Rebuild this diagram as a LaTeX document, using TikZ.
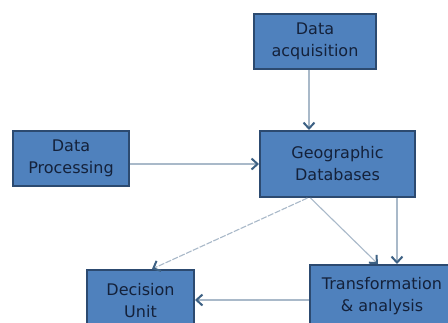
\documentclass[tikz,border=0pt]{standalone}
\usepackage{fontspec}
\setmainfont{DejaVu Sans}
\usetikzlibrary{arrows.meta}
\definecolor{boxfill}{HTML}{4F81BD}
\definecolor{boxedge}{HTML}{2C4A70}
\definecolor{boxtext}{HTML}{14213A}
\definecolor{linecol}{HTML}{A9B9C9}
\definecolor{tipcol}{HTML}{3D6184}
\tikzset{
  blockbox/.style={draw=boxedge, line width=2pt, fill=boxfill, text=boxtext,
    align=center, inner sep=0pt, font=\fontsize{16}{22}\selectfont},
  conn/.style={draw=linecol, line width=1.1pt,
    -{Straight Barb[length=6pt,width=11pt,line width=2pt,color=tipcol]}},
}
\begin{document}
\begin{tikzpicture}[x=1pt,y=-1pt]
\useasboundingbox (0,0) rectangle (448,322);
\clip (0,0) rectangle (448,322);
\fill[white] (0,0) rectangle (448,322);
\node[blockbox, minimum width=122pt, minimum height=55pt] (acq) at (315,41.5) {Data\\acquisition};
\node[blockbox, minimum width=116pt, minimum height=55pt] (proc) at (71,158.5) {Data\\Processing};
\node[blockbox, minimum width=155pt, minimum height=66pt] (geo) at (337.5,164) {Geographic\\Databases};
\node[blockbox, minimum width=107pt, minimum height=62pt] (dec) at (140.5,301) {Decision\\Unit};
\node[blockbox, minimum width=144pt, minimum height=62pt] (trans) at (382,296) {Transformation\\\&\ analysis};
\draw[conn] ([xshift=-6pt]acq.south) -- ([xshift=-6pt]acq.south |- geo.north);
\draw[conn] (geo.west -| proc.east) -- (geo.west);
\draw[conn, dashed, dash pattern=on 6pt off 1.5pt] ([xshift=-30pt]geo.south) -- ([xshift=11.5pt]dec.north);
\draw[conn] ([xshift=-27pt]geo.south) -- ([xshift=-4pt]trans.north);
\draw[conn] ([xshift=59.5pt]geo.south) -- ([xshift=59.5pt]geo.south |- trans.north);
\draw[conn] ([yshift=-4pt]trans.west) -- ([yshift=-4pt]trans.west -| dec.east);
\end{tikzpicture}
\end{document}
